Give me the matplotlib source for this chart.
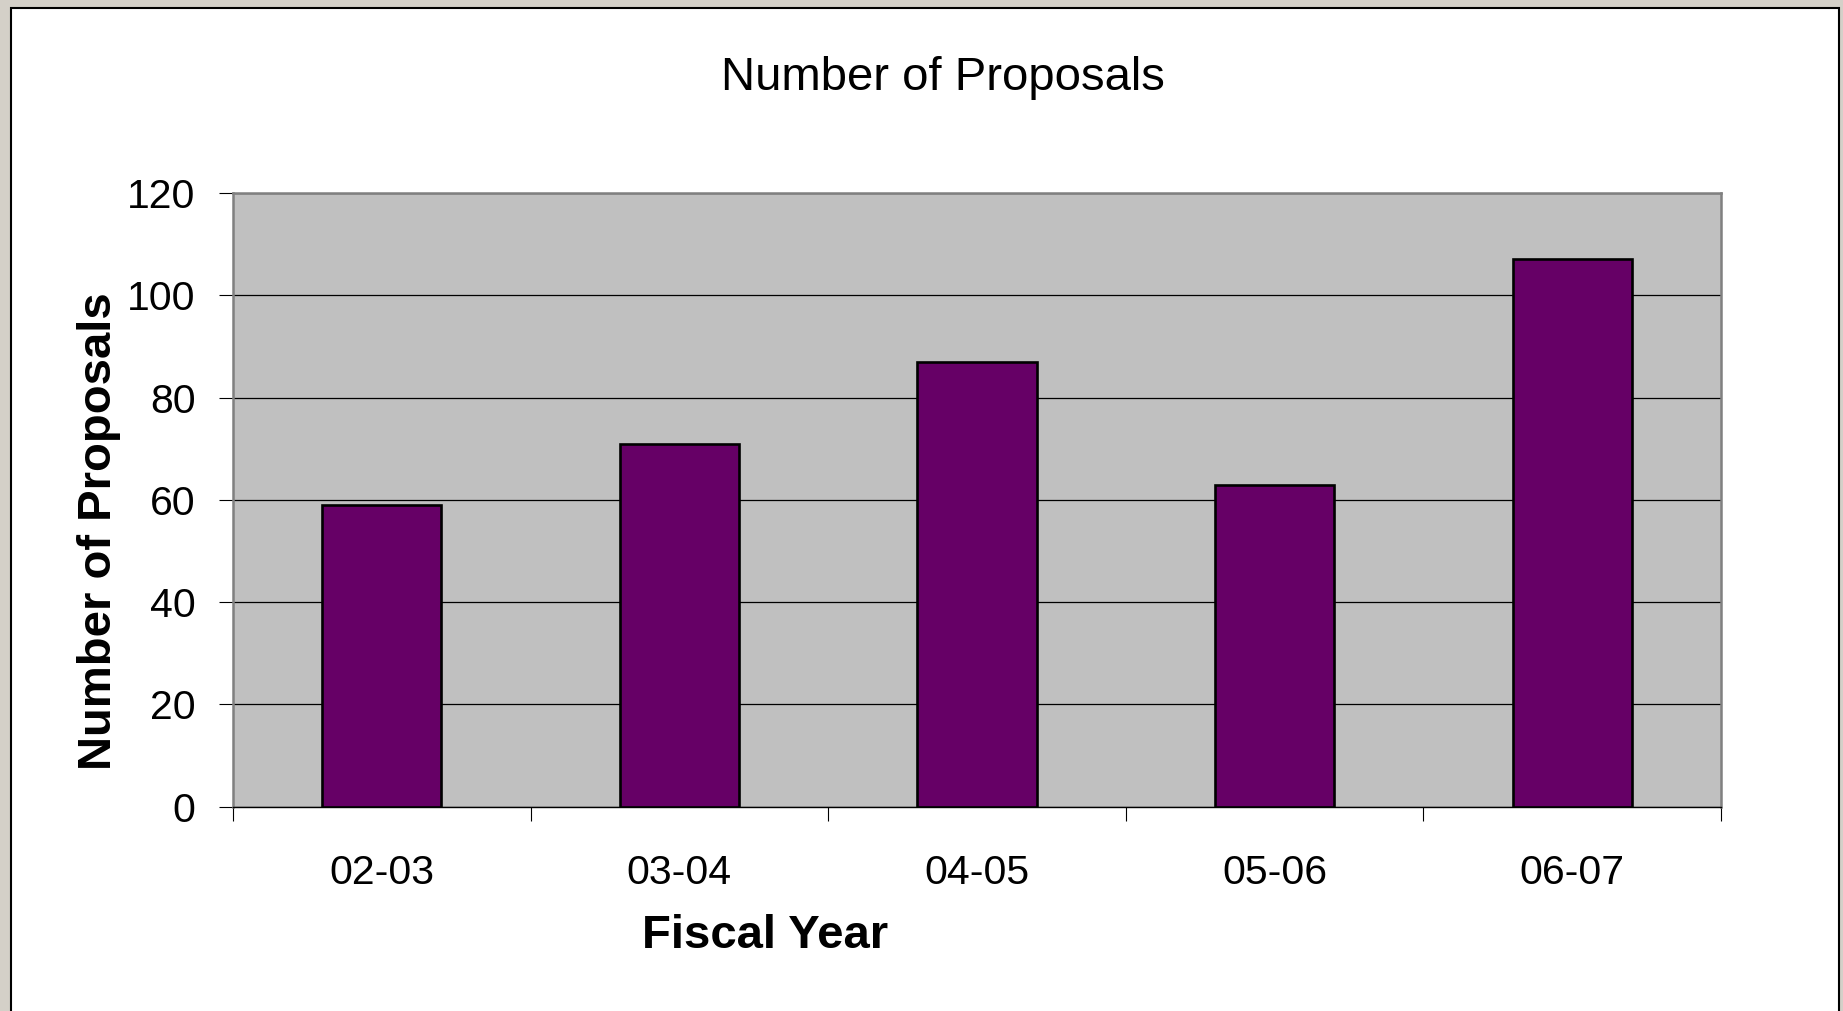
import matplotlib
matplotlib.use("Agg")
import matplotlib.pyplot as plt
from matplotlib.patches import Rectangle
import numpy as np

# data
years = ['02-03', '03-04', '04-05', '05-06', '06-07']
proposals = [59, 71, 87, 63, 107]
y_ticks = [0, 20, 40, 60, 80, 100, 120]

plt.rcParams['font.family'] = ['Liberation Sans', 'DejaVu Sans']

W, H = 1843, 1011
fig = plt.figure(figsize=(W / 100, H / 100), dpi=100)
fig.patch.set_facecolor('#d4d0c8')

# white chart area with black border (bottom runs off the image)
fig.patches.append(Rectangle((10.5 / W, -0.05), (1839 - 10.5) / W, 1.05 - 7.5 / H,
                             transform=fig.transFigure, facecolor='white',
                             edgecolor='black', linewidth=1.5, zorder=-10))

left, right, top, bottom = 233, 1721, 193, 806.7
ax = fig.add_axes([left / W, 1 - bottom / H, (right - left) / W, (bottom - top) / H])
ax.set_zorder(1)
ax.set_facecolor('#c0c0c0')

x = np.arange(len(years))
ax.bar(x, proposals, width=0.40, color='#660066', edgecolor='black', linewidth=1.9, zorder=3)

ax.set_xlim(-0.5, len(years) - 0.5)
ax.set_ylim(0, 120)
ax.set_yticks(y_ticks)
ax.yaxis.grid(True, color='black', linewidth=0.9, zorder=1)
ax.set_axisbelow(True)

# category boundaries get tick marks, labels sit in between
ax.set_xticks(np.arange(-0.5, len(years)), labels=[''] * (len(years) + 1))
ax.set_xticks(x, labels=years, minor=True)
ax.tick_params(axis='x', which='major', length=10, width=0.8, direction='out')
ax.tick_params(axis='x', which='minor', length=0, pad=34, labelsize=29.5)
ax.tick_params(axis='y', length=10, width=0.8, direction='out', pad=17, labelsize=29.5)

for side in ['top', 'right', 'left']:
    ax.spines[side].set_color('#808080')
    ax.spines[side].set_linewidth(1.8)
ax.spines['bottom'].set_color('black')
ax.spines['bottom'].set_linewidth(1.0)

fig.text(943 / W, 1 - 78 / H, 'Number of Proposals', ha='center', va='center', fontsize=34)
fig.text(99 / W, 1 - 531 / H, 'Number of Proposals', ha='center', va='center',
         rotation=90, fontsize=34, fontweight='bold')
fig.text(765 / W, 1 - 936 / H, 'Fiscal Year', ha='center', va='center',
         fontsize=34, fontweight='bold')

fig.savefig('out.png', dpi=100, facecolor=fig.get_facecolor())
